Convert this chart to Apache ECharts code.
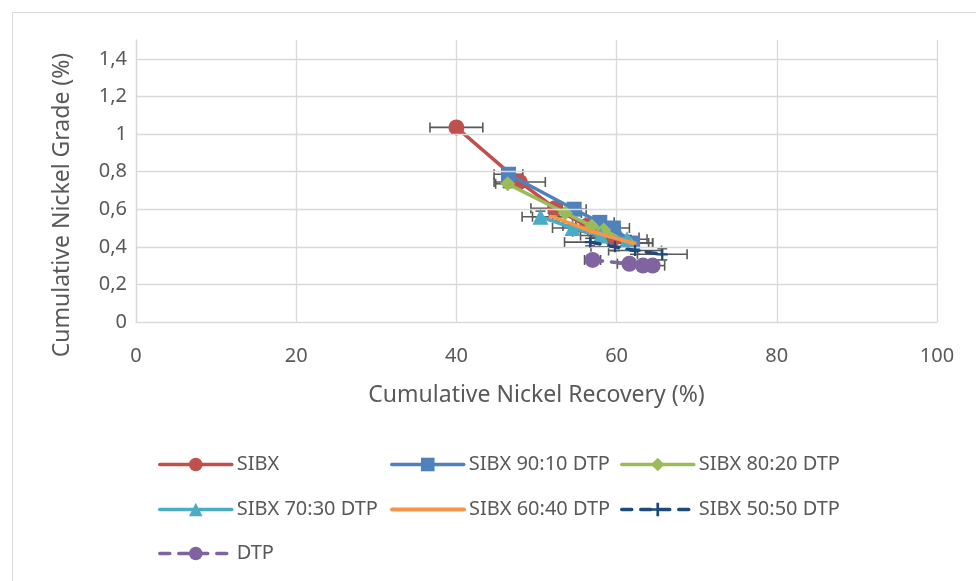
<!DOCTYPE html>
<html>
<head>
<meta charset="utf-8">
<script src="https://cdn.jsdelivr.net/npm/echarts@6/dist/echarts.min.js"></script>
<style>html,body{margin:0;padding:0;background:#fff;}#c{width:976px;height:581px;}</style>
</head>
<body>
<div id="c"></div>
<script>
// ---- data ----
var seriesNames = ['SIBX', 'SIBX 90:10 DTP', 'SIBX 80:20 DTP', 'SIBX 70:30 DTP', 'SIBX 60:40 DTP', 'SIBX 50:50 DTP', 'DTP'];
var sibxX = [40.0, 47.9, 52.3, 56.3, 59.8];
var sibxY = [1.035, 0.745, 0.605, 0.51, 0.45];
var sibxXErr = [3.3, 3.2, 3.0, 3.0, 3.0];
var sibxYErr = [0.03, 0.02, 0.02, 0.02, 0.02];

var s9010X = [46.5, 54.7, 57.9, 59.6, 62.0];
var s9010Y = [0.786, 0.600, 0.530, 0.500, 0.420];
var s9010XErr = [1.8, 1.5, 1.8, 2.0, 2.5];
var s9010YErr = [0.02, 0.03, 0.02, 0.02, 0.02];

var s8020X = [46.4, 53.6, 56.9, 58.4, 61.5];
var s8020Y = [0.735, 0.580, 0.510, 0.490, 0.420];
var s8020XErr = [1.5, 2.0, 2.0, 2.0, 2.5];
var s8020YErr = [0.02, 0.02, 0.02, 0.02, 0.02];

var s7030X = [50.5, 54.5, 58.0, 61.3];
var s7030Y = [0.560, 0.500, 0.460, 0.440];
var s7030XErr = [2.3, 2.5, 2.5, 2.5];
var s7030YErr = [0.03, 0.02, 0.02, 0.02];

var s6040X = [52.0, 57.0, 62.0];
var s6040Y = [0.560, 0.480, 0.420];
var s6040XErr = [2.5, 2.5, 2.5];
var s6040YErr = [0.02, 0.02, 0.02];

var s5050X = [56.7, 59.8, 62.3, 65.7];
var s5050Y = [0.425, 0.400, 0.380, 0.360];
var s5050XErr = [3.2, 3.0, 3.3, 3.1];
var s5050YErr = [0.02, 0.02, 0.02, 0.03];

var dtpX = [57.0, 61.6, 63.3, 64.5];
var dtpY = [0.330, 0.310, 0.300, 0.300];
var dtpXErr = [1.0, 1.5, 1.5, 1.5];
var dtpYErr = [0.01, 0.02, 0.02, 0.02];

var yTicks = [0, 0.2, 0.4, 0.6, 0.8, 1.0, 1.2, 1.4];
var xTicks = [0, 20, 40, 60, 80, 100];
var xTitle = 'Cumulative Nickel Recovery (%)';
var yTitle = 'Cumulative Nickel Grade (%)';

// ---- build ----
var colors = ['#c0504d', '#4f81bd', '#9bbb59', '#4bacc6', '#f79646', '#1f497d', '#8064a2'];
var allX = [sibxX, s9010X, s8020X, s7030X, s6040X, s5050X, dtpX];
var allY = [sibxY, s9010Y, s8020Y, s7030Y, s6040Y, s5050Y, dtpY];
var allXE = [sibxXErr, s9010XErr, s8020XErr, s7030XErr, s6040XErr, s5050XErr, dtpXErr];
var allYE = [sibxYErr, s9010YErr, s8020YErr, s7030YErr, s6040YErr, s5050YErr, dtpYErr];
var plusPath = 'path://M4,0H6V4H10V6H6V10H4V6H0V4H4Z';
var symbols = ['circle', 'rect', 'diamond', 'triangle', 'rect', plusPath, 'circle'];
var symSizes = [16, 15, 15, 16, [8, 3], 11, 16];
var lineTypes = ['solid', 'solid', 'solid', 'solid', 'solid', [10, 9], [10, 9]];
var font = 'Noto Sans';
var txt = '#595959';

function pairs(xs, ys) { return xs.map(function (x, i) { return [x, ys[i]]; }); }

var series = [];
// error bars
var errData = [];
for (var s = 0; s < 7; s++) {
  for (var i = 0; i < allX[s].length; i++) errData.push([allX[s][i], allY[s][i], allXE[s][i], allYE[s][i]]);
}
series.push({
  type: 'custom', name: 'err', silent: true, z: 1,
  data: errData,
  renderItem: function (params, api) {
    var x = api.value(0), y = api.value(1), xe = api.value(2), ye = api.value(3);
    var l = api.coord([x - xe, y]), r = api.coord([x + xe, y]);
    var t = api.coord([x, y + ye]), b = api.coord([x, y - ye]);
    var st = { stroke: '#595959', lineWidth: 1.6 };
    var c = 5;
    return { type: 'group', children: [
      { type: 'line', shape: { x1: l[0], y1: l[1], x2: r[0], y2: r[1] }, style: st },
      { type: 'line', shape: { x1: l[0], y1: l[1] - c, x2: l[0], y2: l[1] + c }, style: st },
      { type: 'line', shape: { x1: r[0], y1: r[1] - c, x2: r[0], y2: r[1] + c }, style: st },
      { type: 'line', shape: { x1: t[0], y1: t[1], x2: b[0], y2: b[1] }, style: st },
      { type: 'line', shape: { x1: t[0] - c, y1: t[1], x2: t[0] + c, y2: t[1] }, style: st },
      { type: 'line', shape: { x1: b[0] - c, y1: b[1], x2: b[0] + c, y2: b[1] }, style: st }
    ] };
  }
});
for (var k = 0; k < 7; k++) {
  series.push({
    type: 'line', name: seriesNames[k], z: 2 + k,
    data: pairs(allX[k], allY[k]),
    symbol: symbols[k], symbolSize: symSizes[k],
    showAllSymbol: true,
    itemStyle: { color: colors[k] },
    lineStyle: { color: colors[k], width: 3.5, type: lineTypes[k], cap: 'round' },
    emphasis: { disabled: true },
    animation: false
  });
}
// horizontal gridlines
series.push({
  type: 'line', name: 'grid', data: [], silent: true, z: 0,
  markLine: {
    silent: true, symbol: 'none', label: { show: false }, animation: false,
    lineStyle: { color: '#d9d9d9', width: 1.3, type: 'solid' },
    data: yTicks.slice(1).map(function (v) { return { yAxis: v }; })
  }
});

var legCenters = [[158, 463], [390, 463], [620, 463], [158, 508], [390, 508], [620, 508], [158, 552]];
var legends = seriesNames.map(function (n, i) {
  var small = (i === 4);
  var h = 17;
  var leg = {
    data: [n], left: legCenters[i][0], top: legCenters[i][1] - h / 2, itemWidth: 72, itemHeight: h,
    selectedMode: false, padding: 0,
    lineStyle: { width: small ? 4 : 3.5 },
    textStyle: { color: txt, fontSize: 20, fontFamily: font }
  };
  if (small) leg.itemStyle = { opacity: 0 };
  return leg;
});

var option = {
  backgroundColor: '#fff',
  animation: false,
  legend: legends,
  grid: { left: 136, right: 39, top: 40, bottom: 259, containLabel: false },
  xAxis: {
    type: 'value', min: 0, max: 100, interval: 20,
    name: xTitle, nameLocation: 'middle', nameGap: 62,
    nameTextStyle: { color: txt, fontSize: 23, fontFamily: font },
    axisLine: { show: true, lineStyle: { color: '#d9d9d9', width: 1.3 } },
    axisTick: { show: false },
    axisLabel: { color: txt, fontSize: 20, fontFamily: font, margin: 24 },
    splitLine: { show: true, lineStyle: { color: '#d9d9d9', width: 1.3 } }
  },
  yAxis: {
    type: 'value', min: 0, max: 1.5, interval: 0.2,
    axisLine: { show: true, lineStyle: { color: '#d9d9d9', width: 1.3 } },
    axisTick: { show: false },
    splitLine: { show: false },
    axisLabel: {
      color: txt, fontSize: 20, fontFamily: font, margin: 9, showMaxLabel: false,
      formatter: function (v) {
        var r = Math.round(v * 10) / 10;
        if (Math.abs(r - 1.5) < 1e-6) return '';
        return (r % 1 === 0 ? String(r) : r.toFixed(1)).replace('.', ',');
      }
    }
  },
  graphic: [{
    type: 'rect', left: 10, top: 10, shape: { width: 1200, height: 1200 },
    style: { fill: 'none', stroke: '#d9d9d9', lineWidth: 1 }, silent: true, z: -1
  }, {
    type: 'text', x: 62, y: 205, rotation: Math.PI / 2, silent: true,
    style: { text: yTitle, fill: txt, font: '23px "Noto Sans"', align: 'center', verticalAlign: 'middle' }
  }],
  series: series
};
var chart = echarts.init(document.getElementById('c'), null, { renderer: 'canvas' });
chart.setOption(option);
</script>
</body>
</html>
